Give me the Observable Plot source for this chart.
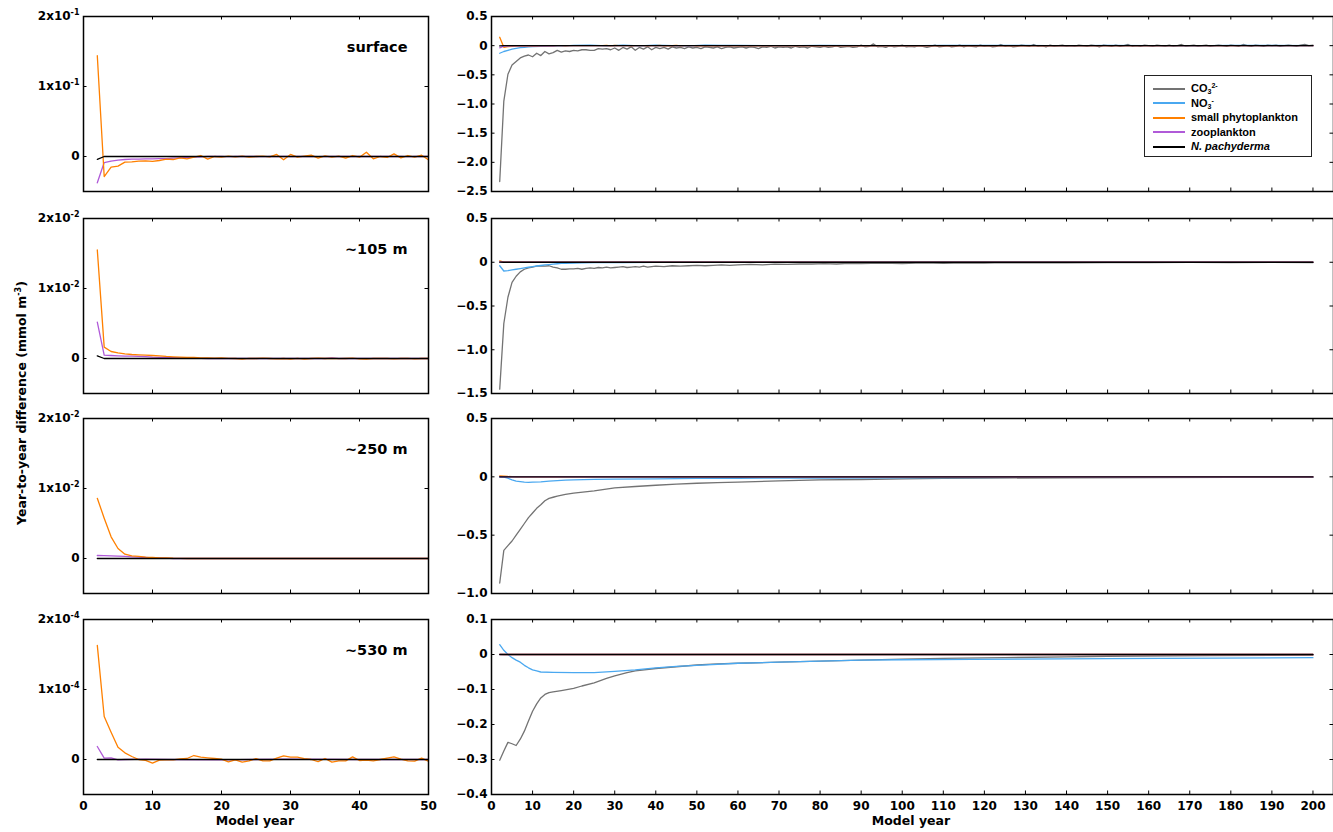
<!DOCTYPE html>
<html>
<head>
<meta charset="utf-8">
<script src="https://cdn.jsdelivr.net/npm/d3@7"></script>
<script src="https://cdn.jsdelivr.net/npm/@observablehq/plot@0.6"></script>
<style>
  html, body { margin: 0; padding: 0; background: #fff; }
  #fig { position: relative; width: 1333px; height: 832px; overflow: hidden; font-family: "DejaVu Sans", sans-serif; }
  #fig svg { position: absolute; }
  .ylab { position: absolute; left: 21px; top: 403px; transform: translate(-50%, -50%) rotate(-90deg); white-space: nowrap; font-weight: bold; font-size: 12.5px; }
  .ylab sup { font-size: 8px; vertical-align: 5px; line-height: 0; }
  .xlab { position: absolute; top: 813px; transform: translateX(-50%); white-space: nowrap; font-weight: bold; font-size: 12.5px; }
  #legend { position: absolute; left: 1144px; top: 75px; width: 168px; height: 82px; border: 1px solid #222; background: #fff; font-family: "Liberation Sans", Arial, sans-serif; font-weight: bold; font-size: 11px; box-sizing: border-box; padding-top: 5px; }
  #legend .row { position: relative; height: 14.5px; line-height: 14.5px; }
  #legend .sw { position: absolute; left: 8px; top: 6.5px; width: 32px; height: 2px; }
  #legend .tx { position: absolute; left: 46px; top: 0; white-space: nowrap; }
  #legend sub { font-size: 7px; vertical-align: -2px; line-height: 0; }
  #legend sup { font-size: 7px; vertical-align: 4px; line-height: 0; }
</style>
</head>
<body>
<div id="fig"></div>
<script>
// ---------------- DATA ----------------
const depthLabels = ["surface", "~105 m", "~250 m", "~530 m"];
const legendItems = ["CO<sub>3</sub><sup>2-</sup>", "NO<sub>3</sub><sup>-</sup>", "small phytoplankton", "zooplankton", "<i>N. pachyderma</i>"];
const seriesColors = ["#737373", "#4aa8f0", "#ff8000", "#b05ad8", "#000000"];

const yearsL = d3.range(2, 51);   // model years 2..50
const yearsR = d3.range(2, 201);  // model years 2..200

const xTicksL = [0, 10, 20, 30, 40, 50];
const xTicksR = [0, 10, 20, 30, 40, 50, 60, 70, 80, 90, 100, 110, 120, 130, 140, 150, 160, 170, 180, 190, 200];

const leftYDomains = [[-0.05, 0.2], [-0.005, 0.02], [-0.005, 0.02], [-0.00005, 0.0002]];
const leftYTicks = [[0, 0.1, 0.2], [0, 0.01, 0.02], [0, 0.01, 0.02], [0, 0.0001, 0.0002]];
const leftYTickLabels = [["0", "1x10^-1", "2x10^-1"], ["0", "1x10^-2", "2x10^-2"], ["0", "1x10^-2", "2x10^-2"], ["0", "1x10^-4", "2x10^-4"]];

const rightYDomains = [[-2.5, 0.5], [-1.5, 0.5], [-1.0, 0.5], [-0.4, 0.1]];
const rightYTicks = [[-2.5, -2, -1.5, -1, -0.5, 0, 0.5], [-1.5, -1, -0.5, 0, 0.5], [-1, -0.5, 0, 0.5], [-0.4, -0.3, -0.2, -0.1, 0, 0.1]];

// small phytoplankton (years 2..50)
const phytoSurface = [0.144, -0.0286, -0.0152, -0.0138, -0.0081, -0.0076, -0.0067, -0.0062, -0.0071, -0.0057,
  -0.0038, -0.0043, -0.0019, -0.0033, -0.001, 0.0014, -0.0038, 0, -0.001, 0.0005,
  -0.0005, 0.0005, -0.001, 0, 0.0005, -0.0005, 0.0029, -0.0048, 0.0029, -0.001,
  0.0005, 0.0019, -0.0024, 0.001, -0.001, 0.0005, -0.0024, 0.0014, -0.001, 0.0062,
  -0.0033, 0, -0.0014, 0.0038, -0.0019, 0.0014, -0.001, 0.0019, -0.0048];
const phyto105 = [0.0155, 0.00162, 0.001, 0.00081, 0.00067, 0.00057, 0.00052, 0.00048, 0.00043, 0.00038,
  0.00029, 0.00024, 0.00019, 0.00014, 0.00014, 0.0001, 0.0001, 0.00005, 0.0001, 0.00003,
  0, -0.0001, 0.00003, 0, 0.00005, 0, -0.00005, 0, -0.0001, 0.00003,
  -0.0001, 0, 0.00005, 0, 0, -0.00003, 0, 0.00005, -0.00005, -0.0001,
  0, 0.00003, 0, -0.00005, 0, 0.00003, -0.00005, 0, 0];
const phyto250Years = [2, 3, 4, 5, 6, 7, 8, 9, 10, 11, 12, 13, 14, 15, 50];
const phyto250 = [0.0086, 0.00576, 0.0031, 0.00143, 0.00062, 0.00038, 0.00029, 0.00019, 0.00014, 0.0001, 0.0001, 0.00005, 0.00003, 0, 0];
const phyto530 = [1.63e-4, 6.14e-5, 3.9e-5, 1.76e-5, 9.5e-6, 4.3e-6, 0, -1.4e-6, -5.2e-6, -1e-6,
  -5e-7, -5e-7, 1e-6, 1.4e-6, 5.7e-6, 3.3e-6, 2.4e-6, 1.4e-6, 5e-7, -3.3e-6,
  -5e-7, -3.8e-6, -1.9e-6, 1.4e-6, -1.9e-6, -1.9e-6, 1.9e-6, 5.2e-6, 3.3e-6, 3.3e-6,
  1.4e-6, 0, -2.9e-6, 1.4e-6, -3.8e-6, -1.9e-6, -1.9e-6, 3.8e-6, -1.4e-6, -1e-6,
  -1.9e-6, 0, 1.9e-6, 3.8e-6, 5e-7, -1.9e-6, -2.4e-6, 1.9e-6, -2.4e-6];

// zooplankton
const zooSurface = [-0.0376, -0.0086, -0.0067, -0.0052, -0.0043, -0.0038, -0.0038, -0.0033, -0.0033, -0.0029,
  -0.0029, -0.0024, -0.0019, -0.0014, -0.001, -0.0005, 0, 0.0003, 0, -0.0003,
  0, 0.0002, 0, 0, -0.0002, 0, 0.0002, 0, 0, 0,
  0.0002, 0, -0.0002, 0, 0, 0.0002, 0, 0, 0, 0,
  0, 0.0002, 0, 0, 0, -0.0002, 0, 0, 0];
const zoo105 = [0.0052, 0.00048, 0.00043, 0.00038, 0.00035, 0.00033, 0.00029, 0.00026, 0.00019, 0.00016,
  0.00014, 0.00012, 0.0001, 0.00008, 0.00005, 0.00003, 0, 0, 0, 0,
  0, 0, 0, 0, 0, 0, 0, 0, 0, 0,
  0, 0, 0, 0, 0.0001, 0, 0, 0, 0, 0,
  0, 0, 0, 0, 0, 0, 0, 0, 0];
const zoo250Years = [2, 3, 4, 5, 6, 7, 8, 9, 10, 11, 12, 13, 50];
const zoo250 = [0.00043, 0.00041, 0.00038, 0.00033, 0.00029, 0.00024, 0.00019, 0.00014, 0.0001, 0.00007, 0.00005, 0, 0];
const zoo530Years = [2, 3, 4, 5, 6, 9, 12, 20, 30, 40, 50];
const zoo530 = [1.86e-5, 1.9e-6, 2.4e-6, -5e-7, 0, 5e-7, 0, -5e-7, 5e-7, 0, 0];

// N. pachyderma
const npachYears = [2, 3, 50];
const npachSurface = [-0.004, 0, 0];
const npach105 = [0.00038, 0, 0];
const npach250 = [0, 0, 0];
const npach530 = [0, 0, 0];

// CO3 2- (right panels)
const co3Surface = [-2.33, -0.95, -0.49, -0.33, -0.27, -0.21, -0.18, -0.16, -0.19, -0.13,
  -0.17, -0.10, -0.14, -0.12, -0.08, -0.11, -0.09, -0.10, -0.08, -0.09,
  -0.07, -0.07, -0.08, -0.08, -0.05, -0.06, -0.05, -0.07, -0.04, -0.08,
  -0.03, -0.06, -0.02, -0.08, -0.03, -0.06, -0.02, -0.07, -0.03, -0.05,
  -0.03, -0.06, -0.02, -0.04, -0.03, -0.05, -0.02, -0.04, -0.03, -0.05,
  -0.02, -0.03, -0.04, -0.02, -0.05, -0.03, -0.02, -0.04, -0.03, -0.02,
  -0.04, -0.02, -0.03, -0.05, -0.02, -0.03, -0.01, -0.04, -0.02, -0.03,
  -0.02, -0.04, -0.01, -0.03, -0.02, -0.04, -0.01, -0.02, -0.03, -0.01,
  -0.03, -0.02, 0.00, -0.03, -0.02, -0.01, -0.03, -0.02, 0.01, -0.02,
  -0.01, 0.03, -0.02, -0.01, -0.03, 0.00, -0.02, -0.01, 0.01, -0.02,
  -0.01, -0.02, 0.00, -0.01, -0.03, -0.01, 0.01, -0.02, -0.01, 0.00,
  -0.02, -0.01, 0.01, -0.02, 0.00, -0.01, -0.02, 0.01, -0.01, 0.00,
  -0.02, -0.01, 0.02, -0.01, 0.00, -0.02, -0.01, 0.01, 0.00, -0.01,
  0.02, -0.01, 0.00, -0.02, 0.01, -0.01, 0.00, 0.01, -0.01, 0.00,
  -0.01, 0.01, 0.00, -0.01, 0.01, 0.00, -0.02, 0.01, 0.00, -0.01,
  0.01, -0.01, 0.00, 0.02, -0.01, 0.00, -0.01, 0.01, 0.00, -0.01,
  0.01, 0.00, -0.01, 0.01, -0.01, 0.00, 0.02, -0.01, 0.00, 0.01,
  -0.01, 0.00, 0.01, -0.01, 0.00, 0.01, 0.00, -0.01, 0.01, 0.00,
  -0.01, 0.02, 0.00, -0.01, 0.01, 0.00, -0.01, 0.01, 0.00, 0.01,
  -0.01, 0.00, 0.01, 0.00, -0.01, 0.01, 0.02, 0.00, 0.01];
const co3_105Years = [2, 3, 4, 5, 6, 7, 8, 9, 10, 11, 12, 13, 14, 15, 16, 17, 18, 19, 20, 21, 22, 23, 24, 25, 26, 27, 28, 29, 30, 31, 32, 33, 34, 35, 36, 37, 38, 39, 40,
  42, 44, 46, 48, 50, 52, 54, 56, 58, 60, 63, 66, 69, 72, 75, 78, 81, 84, 87, 90, 95, 100, 105, 110, 115, 120, 125, 130, 135, 140, 150, 160, 170, 180, 190, 200];
const co3_105 = [-1.45, -0.70, -0.40, -0.23, -0.16, -0.11, -0.08, -0.065, -0.055, -0.045, -0.04, -0.045, -0.04, -0.055, -0.065, -0.08, -0.08, -0.075, -0.075, -0.07, -0.08, -0.07, -0.065, -0.07, -0.06, -0.065, -0.055, -0.065, -0.06, -0.055, -0.05, -0.06, -0.055, -0.05, -0.055, -0.045, -0.055, -0.05, -0.045,
  -0.05, -0.04, -0.045, -0.04, -0.035, -0.04, -0.035, -0.03, -0.035, -0.03, -0.025, -0.03, -0.022, -0.025, -0.02, -0.02, -0.015, -0.02, -0.012, -0.015, -0.01, -0.015, -0.008, -0.012, -0.006, -0.01, -0.005, -0.008, -0.004, -0.006, -0.003, -0.005, -0.002, -0.004, -0.002, -0.003];
const co3_250Years = [2, 3, 4, 5, 6, 7, 8, 9, 10, 11, 12, 13, 14, 15, 16, 18, 20, 25, 30, 35, 40, 45, 50, 55, 60, 70, 80, 90, 100, 110, 120, 140, 160, 180, 200];
const co3_250 = [-0.91, -0.63, -0.59, -0.55, -0.50, -0.45, -0.40, -0.35, -0.31, -0.27, -0.24, -0.205, -0.185, -0.175, -0.165, -0.15, -0.14, -0.12, -0.095, -0.083, -0.072, -0.063, -0.055, -0.05, -0.046, -0.034, -0.026, -0.023, -0.018, -0.014, -0.011, -0.008, -0.006, -0.005, -0.004];
const co3_530Years = [2, 3, 4, 5, 6, 7, 8, 9, 10, 11, 12, 13, 14, 15, 17, 20, 22, 25, 28, 30, 33, 35, 40, 45, 50, 55, 60, 70, 80, 90, 100, 110, 125, 140, 150, 175, 200];
const co3_530 = [-0.302, -0.276, -0.251, -0.255, -0.26, -0.242, -0.219, -0.19, -0.162, -0.141, -0.124, -0.114, -0.109, -0.107, -0.103, -0.097, -0.09, -0.081, -0.068, -0.061, -0.052, -0.047, -0.04, -0.035, -0.03, -0.027, -0.025, -0.022, -0.019, -0.016, -0.013, -0.011, -0.009, -0.007, -0.005, -0.003, -0.002];

// NO3 - (right panels)
const no3SurfaceYears = [2, 3, 4, 5, 6, 7, 8, 9, 10, 12, 14, 16, 18, 20, 24, 28, 32, 36, 40, 44, 48, 52, 56, 60, 70, 80, 90, 100, 110, 120, 130, 140, 150, 160, 170, 180, 190, 200];
const no3Surface = [-0.13, -0.10, -0.08, -0.06, -0.045, -0.035, -0.028, -0.022, -0.018, -0.012, -0.008, -0.005, -0.003, 0.005, 0.01, -0.005, 0.008, -0.004, 0.01, 0.002, -0.005, 0.008, 0.003, 0.005, -0.003, 0.006, 0.002, -0.004, 0.004, 0.003, 0.006, -0.002, 0.004, 0.002, -0.003, 0.005, 0.003, 0.002];
const no3_105Years = [2, 3, 4, 5, 6, 7, 8, 9, 10, 11, 12, 13, 14, 15, 16, 17, 18, 20, 22, 25, 28, 32, 40, 60, 100, 200];
const no3_105 = [-0.04, -0.10, -0.095, -0.088, -0.08, -0.072, -0.065, -0.057, -0.05, -0.043, -0.037, -0.031, -0.026, -0.021, -0.017, -0.014, -0.012, -0.009, -0.007, -0.005, -0.004, -0.003, -0.002, -0.001, 0, 0];
const no3_250Years = [2, 3, 4, 5, 6, 7, 8, 9, 10, 12, 14, 16, 18, 20, 25, 30, 40, 50, 60, 80, 100, 130, 160, 200];
const no3_250 = [0, -0.003, -0.012, -0.026, -0.037, -0.041, -0.045, -0.047, -0.046, -0.043, -0.037, -0.032, -0.028, -0.026, -0.022, -0.019, -0.017, -0.014, -0.012, -0.01, -0.008, -0.005, -0.004, -0.003];
const no3_530Years = [2, 3, 4, 5, 6, 7, 8, 9, 10, 11, 12, 15, 20, 25, 30, 35, 40, 45, 50, 60, 70, 80, 90, 100, 117, 150, 200];
const no3_530 = [0.028, 0.012, 0.0, -0.009, -0.016, -0.022, -0.031, -0.038, -0.044, -0.047, -0.05, -0.051, -0.052, -0.052, -0.048, -0.044, -0.038, -0.034, -0.031, -0.025, -0.022, -0.019, -0.016, -0.015, -0.014, -0.012, -0.009];

// ---------------- BUILD ----------------
const rows = (years, values) => years.map((year, i) => ({year, value: values[i]}));

const phytoRows = [rows(yearsL, phytoSurface), rows(yearsL, phyto105), rows(phyto250Years, phyto250), rows(yearsL, phyto530)];
const zooRows = [rows(yearsL, zooSurface), rows(yearsL, zoo105), rows(zoo250Years, zoo250), rows(zoo530Years, zoo530)];
const npachRows = [rows(npachYears, npachSurface), rows(npachYears, npach105), rows(npachYears, npach250), rows(npachYears, npach530)];
const co3Rows = [rows(yearsR, co3Surface), rows(co3_105Years, co3_105), rows(co3_250Years, co3_250), rows(co3_530Years, co3_530)];
const no3Rows = [rows(no3SurfaceYears, no3Surface), rows(no3_105Years, no3_105), rows(no3_250Years, no3_250), rows(no3_530Years, no3_530)];
const tail = [{year: 200, value: 0}];

const fig = document.getElementById("fig");
const rowTops = [16, 218, 418, 619];
const plotH = 175;
const styleBase = {fontFamily: "'DejaVu Sans', sans-serif", fontSize: "12px", fontWeight: "bold", background: "transparent", overflow: "visible", color: "black"};

function supify(svg) {
  svg.querySelectorAll("text").forEach(t => {
    const s = t.textContent;
    const m = s.match(/^(.*)\^(.+)$/);
    if (m && t.children.length === 0) {
      t.textContent = m[1];
      const ts = document.createElementNS("http://www.w3.org/2000/svg", "tspan");
      ts.setAttribute("dy", "-5");
      ts.setAttribute("font-size", "8");
      ts.textContent = m[2];
      t.appendChild(ts);
    }
  });
}

function panel({left, top, width, ml, mr, mb, xDomain, xTicks, yDomain, yTicks, yFormat, showX, label, series}) {
  const height = 16 + plotH + mb;
  const pw = width - ml - mr;
  const marks = [];
  for (const s of series) marks.push(Plot.line(s.data, {x: "year", y: "value", stroke: s.color, strokeWidth: 1.3, clip: true}));
  marks.push(Plot.frame({stroke: "black", strokeWidth: 1.5}));
  marks.push(Plot.tickX(xTicks, {x: d => d, insetTop: plotH - 3.5, stroke: "black"}));
  marks.push(Plot.tickX(xTicks, {x: d => d, insetBottom: plotH - 3.5, stroke: "black"}));
  marks.push(Plot.tickY(yTicks, {y: d => d, insetLeft: pw - 3.5, stroke: "black"}));
  marks.push(Plot.tickY(yTicks, {y: d => d, insetRight: pw - 3.5, stroke: "black"}));
  marks.push(Plot.axisY({anchor: "left", ticks: yTicks, tickSize: 0, tickPadding: 4, tickFormat: yFormat, label: null}));
  if (showX) marks.push(Plot.axisX({anchor: "bottom", ticks: xTicks, tickSize: 0, tickPadding: 7, tickFormat: d => String(d), label: null}));
  if (label) marks.push(Plot.text([label], {text: d => d, frameAnchor: "top-right", dx: -21, dy: 31, textAnchor: "end", lineAnchor: "middle", fontSize: 14.5, fontWeight: "bold"}));
  const svg = Plot.plot({
    width, height,
    marginLeft: ml, marginRight: mr, marginTop: 16, marginBottom: mb,
    x: showX ? {domain: xDomain} : {domain: xDomain, axis: null},
    y: {domain: yDomain},
    style: styleBase,
    marks
  });
  supify(svg);
  svg.style.left = left + "px";
  svg.style.top = top + "px";
  fig.appendChild(svg);
}

const fmtR = d => d === 0 ? "0" : d3.format(".1f")(d);

for (let i = 0; i < 4; i++) {
  const showX = i === 3;
  const mb = showX ? 35 : 6;
  // left panel: phytoplankton, zooplankton, N. pachyderma, years 0-50
  panel({
    left: 0, top: rowTops[i] - 16, width: 440, ml: 83, mr: 12, mb,
    xDomain: [0, 50], xTicks: xTicksL,
    yDomain: leftYDomains[i], yTicks: leftYTicks[i],
    yFormat: d => leftYTickLabels[i][leftYTicks[i].indexOf(d)],
    showX, label: depthLabels[i],
    series: [
      {data: zooRows[i], color: seriesColors[3]},
      {data: phytoRows[i], color: seriesColors[2]},
      {data: npachRows[i], color: seriesColors[4]}
    ]
  });
  // right panel: all five, years 0-200
  panel({
    left: 440, top: rowTops[i] - 16, width: 893, ml: 51, mr: 0, mb,
    xDomain: [0, 205], xTicks: xTicksR,
    yDomain: rightYDomains[i], yTicks: rightYTicks[i],
    yFormat: fmtR,
    showX, label: null,
    series: [
      {data: co3Rows[i], color: seriesColors[0]},
      {data: no3Rows[i], color: seriesColors[1]},
      {data: phytoRows[i].concat(tail), color: seriesColors[2]},
      {data: zooRows[i].concat(tail), color: seriesColors[3]},
      {data: npachRows[i].concat(tail), color: seriesColors[4]}
    ]
  });
}

// axis titles
const ylab = document.createElement("div");
ylab.className = "ylab";
ylab.innerHTML = "Year-to-year difference (mmol m<sup>-3</sup>)";
fig.appendChild(ylab);
for (const cx of [255, 911]) {
  const xl = document.createElement("div");
  xl.className = "xlab";
  xl.style.left = cx + "px";
  xl.textContent = "Model year";
  fig.appendChild(xl);
}

// legend
const legend = document.createElement("div");
legend.id = "legend";
legendItems.forEach((html, i) => {
  const r = document.createElement("div");
  r.className = "row";
  r.innerHTML = `<span class="sw" style="background:${seriesColors[i]}"></span><span class="tx">${html}</span>`;
  legend.appendChild(r);
});
fig.appendChild(legend);
</script>
</body>
</html>
